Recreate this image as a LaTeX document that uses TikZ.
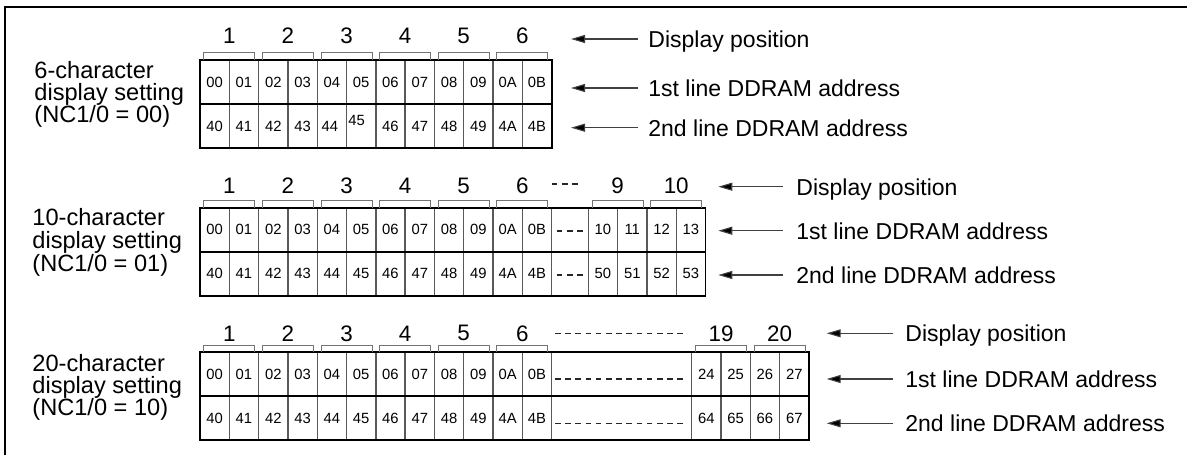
\documentclass[tikz,border=0pt]{standalone}
\usepackage{fontspec}
\setmainfont{Liberation Sans}
\usetikzlibrary{arrows.meta}
\begin{document}
\begin{tikzpicture}[x=0.5pt,y=-0.5pt,
  cellt/.style={inner sep=0pt, font=\fontsize{7.4}{9}\selectfont},
  post/.style={inner sep=0pt, font=\fontsize{11.2}{13}\selectfont},
  lab/.style={inner sep=0pt, anchor=base west, font=\fontsize{11.5}{13}\selectfont},
  lbl/.style={inner sep=0pt, anchor=base west, font=\fontsize{11.8}{13}\selectfont},
  innerln/.style={draw=black!65, line width=0.7pt},
  outerln/.style={draw=black, line width=0.9pt},
  brk/.style={draw=black!55, line width=0.5pt},
  arr/.style={draw=black!75, line width=0.55pt, -{Triangle[length=7pt,width=4pt,fill=black]}},
  dsh/.style={draw=black!85, line width=0.65pt, dash pattern=on 2.8pt off 2.3pt}]
\useasboundingbox (0,0) rectangle (1187,455);
\draw[line width=1pt] (1187,7) -- (5,7) -- (5,455);

% ================= Section 1 =================
\node[lbl] (s1n1) at (34,78.3) {6-character};
\node[lbl] (s1n2) at (34,100.3) {display setting};
\node[lbl] (s1n3) at (34,122.3) {(NC1/0 = 00)};
\foreach \i in {1,...,11} \draw[innerln] ({200+\i*29.3},60) -- ({200+\i*29.3},148);
\draw[outerln] (200,104) -- (551.6,104);
\draw[outerln] (200,60) rectangle (551.6,148);
\foreach \t [count=\i from 0] in {00,01,02,03,04,05,06,07,08,09,0A,0B}
  \node[cellt] (s1a\i) at ({200+(\i+0.5)*29.3},82) {\t};
\foreach \t/\dx/\dy [count=\i from 0] in {40/0/0,41/0/0,42/0/0,43/0/0,44/-2/0,45/-4.5/-6,46/0/0,47/0/0,48/0/0,49/0/0,4A/0/0,4B/0/0}
  \node[cellt] (s1b\i) at ({200+(\i+0.5)*29.3+\dx},{126+\dy}) {\t};
\foreach \k [evaluate=\k as \n using int(\k+1)] in {0,...,5} {
  \draw[brk] ({200+2*\k*29.3+3.8},60) -- ({200+2*\k*29.3+3.8},52.7) -- ({200+2*(\k+1)*29.3-3.8},52.7) -- ({200+2*(\k+1)*29.3-3.8},60);
  \node[post] (s1p\n) at ({200+(2*\k+1)*29.3},36) {\n};
}
\coordinate (s1h1) at (571,39);   \coordinate (s1t1) at (637.7,39);
\coordinate (s1h2) at (571,88);   \coordinate (s1t2) at (637.7,88);
\coordinate (s1h3) at (571,127.7);\coordinate (s1t3) at (637.7,127.7);
\draw[arr] (s1t1) -- (s1h1);
\draw[arr] (s1t2) -- (s1h2);
\draw[arr] (s1t3) -- (s1h3);
\node[lab] (s1l1) at (648,47.5) {Display position};
\node[lab] (s1l2) at (648,96.5) {1st line DDRAM address};
\node[lab] (s1l3) at (648,136.2) {2nd line DDRAM address};

% ================= Section 2 =================
\node[lbl] (s2n1) at (32,225) {10-character};
\node[lbl] (s2n2) at (32,248) {display setting};
\node[lbl] (s2n3) at (32,271) {(NC1/0 = 01)};
\foreach \i in {1,...,12} \draw[innerln] ({200+\i*29.3},207.7) -- ({200+\i*29.3},295.7);
\foreach \i in {0,...,3} \draw[innerln] ({588.3+\i*29.3},207.7) -- ({588.3+\i*29.3},295.7);
\draw[outerln] (200,251.7) -- (705.5,251.7);
\draw[outerln] (200,207.7) rectangle (705.5,295.7);
\foreach \t [count=\i from 0] in {00,01,02,03,04,05,06,07,08,09,0A,0B}
  \node[cellt] (s2a\i) at ({200+(\i+0.5)*29.3},229.7) {\t};
\foreach \t [count=\i from 0] in {40,41,42,43,44,45,46,47,48,49,4A,4B}
  \node[cellt] (s2b\i) at ({200+(\i+0.5)*29.3},273.7) {\t};
\foreach \t [count=\i from 0] in {10,11,12,13}
  \node[cellt] (s2c\i) at ({588.3+(\i+0.5)*29.3},229.7) {\t};
\foreach \t [count=\i from 0] in {50,51,52,53}
  \node[cellt] (s2d\i) at ({588.3+(\i+0.5)*29.3},273.7) {\t};
\foreach \k [evaluate=\k as \n using int(\k+1)] in {0,...,5} {
  \draw[brk] ({200+2*\k*29.3+3.8},207.7) -- ({200+2*\k*29.3+3.8},200.7) -- ({200+2*(\k+1)*29.3-3.8},200.7) -- ({200+2*(\k+1)*29.3-3.8},207.7);
  \node[post] (s2p\n) at ({200+(2*\k+1)*29.3},186) {\n};
}
\foreach \k/\n in {0/9,1/10} {
  \draw[brk] ({588.3+2*\k*29.3+3.8},207.7) -- ({588.3+2*\k*29.3+3.8},200.7) -- ({588.3+2*(\k+1)*29.3-3.8},200.7) -- ({588.3+2*(\k+1)*29.3-3.8},207.7);
  \node[post] (s2p\n) at ({588.3+(2*\k+1)*29.3},186) {\n};
}
\draw[dsh] (551.7,184) -- (578.3,184);
\draw[dsh] (556.7,231) -- (583.3,231);
\draw[dsh] (556.7,275) -- (583.3,275);
\coordinate (s2h1) at (718.3,186.7); \coordinate (s2t1) at (783,186.7);
\coordinate (s2h2) at (718.3,230.7); \coordinate (s2t2) at (783,230.7);
\coordinate (s2h3) at (718.3,275);   \coordinate (s2t3) at (783,275);
\draw[arr] (s2t1) -- (s2h1);
\draw[arr] (s2t2) -- (s2h2);
\draw[arr] (s2t3) -- (s2h3);
\node[lab] (s2l1) at (796,195.2) {Display position};
\node[lab] (s2l2) at (796,239.2) {1st line DDRAM address};
\node[lab] (s2l3) at (796,283.5) {2nd line DDRAM address};

% ================= Section 3 =================
\node[lbl] (s3n1) at (32,371) {20-character};
\node[lbl] (s3n2) at (32,393.3) {display setting};
\node[lbl] (s3n3) at (32,415.7) {(NC1/0 = 10)};
\foreach \i in {1,...,12} \draw[innerln] ({200+\i*29.3},352.3) -- ({200+\i*29.3},440.3);
\foreach \i in {0,...,3} \draw[innerln] ({691.7+\i*29.3},352.3) -- ({691.7+\i*29.3},440.3);
\draw[outerln] (200,396.3) -- (808.9,396.3);
\draw[outerln] (200,352.3) rectangle (808.9,440.3);
\foreach \t [count=\i from 0] in {00,01,02,03,04,05,06,07,08,09,0A,0B}
  \node[cellt] (s3a\i) at ({200+(\i+0.5)*29.3},374.3) {\t};
\foreach \t [count=\i from 0] in {40,41,42,43,44,45,46,47,48,49,4A,4B}
  \node[cellt] (s3b\i) at ({200+(\i+0.5)*29.3},418.3) {\t};
\foreach \t [count=\i from 0] in {24,25,26,27}
  \node[cellt] (s3c\i) at ({691.7+(\i+0.5)*29.3},374.3) {\t};
\foreach \t [count=\i from 0] in {64,65,66,67}
  \node[cellt] (s3d\i) at ({691.7+(\i+0.5)*29.3},418.3) {\t};
\foreach \k [evaluate=\k as \n using int(\k+1)] in {0,...,5} {
  \draw[brk] ({200+2*\k*29.3+3.8},352.3) -- ({200+2*\k*29.3+3.8},345) -- ({200+2*(\k+1)*29.3-3.8},345) -- ({200+2*(\k+1)*29.3-3.8},352.3);
  \node[post] (s3p\n) at ({200+(2*\k+1)*29.3},333.3) {\n};
}
\foreach \k/\n in {0/19,1/20} {
  \draw[brk] ({691.7+2*\k*29.3+3.8},352.3) -- ({691.7+2*\k*29.3+3.8},345) -- ({691.7+2*(\k+1)*29.3-3.8},345) -- ({691.7+2*(\k+1)*29.3-3.8},352.3);
  \node[post] (s3p\n) at ({691.7+(2*\k+1)*29.3},333.3) {\n};
}
\draw[dsh] (555,333.3) -- (683.3,333.3);
\draw[dsh] (555,379) -- (683.3,379);
\draw[dsh] (555,423.3) -- (683.3,423.3);
\coordinate (s3h1) at (826.7,333.3); \coordinate (s3t1) at (893.3,333.3);
\coordinate (s3h2) at (826.7,379);   \coordinate (s3t2) at (893.3,379);
\coordinate (s3h3) at (826.7,423.3); \coordinate (s3t3) at (893.3,423.3);
\draw[arr] (s3t1) -- (s3h1);
\draw[arr] (s3t2) -- (s3h2);
\draw[arr] (s3t3) -- (s3h3);
\node[lab] (s3l1) at (905,341.8) {Display position};
\node[lab] (s3l2) at (905,387.5) {1st line DDRAM address};
\node[lab] (s3l3) at (905,431.8) {2nd line DDRAM address};
\end{tikzpicture}
\end{document}
